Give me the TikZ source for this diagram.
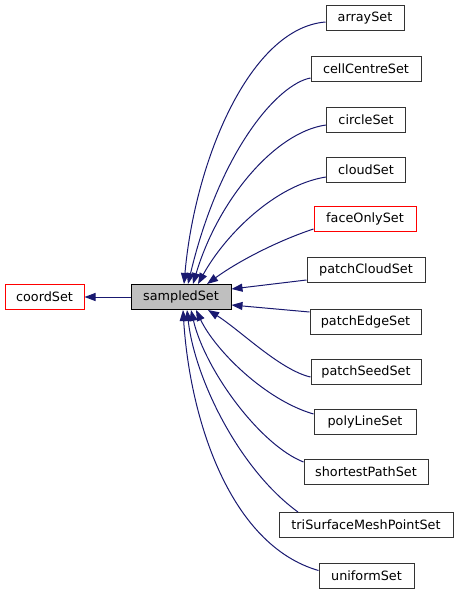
\documentclass[tikz,border=0pt]{standalone}
\usepackage{fontspec}
\setmainfont{DejaVu Sans}
\usetikzlibrary{arrows.meta}
\definecolor{edgeblue}{HTML}{191970}
\definecolor{boxgray}{HTML}{BFBFBF}
\tikzset{
  cls/.style={draw=black!80, fill=white, line width=1pt, minimum height=25pt, inner sep=0pt,
    font=\fontsize{12.8}{15}\selectfont},
  redcls/.style={cls, draw=red},
  curcls/.style={cls, fill=boxgray, draw=black},
  edge/.style={draw=edgeblue, line width=1pt, -{Triangle[length=11pt,width=8pt]}},
}
\begin{document}
\begin{tikzpicture}[x=1pt,y=-1pt]
\useasboundingbox (0,0) rectangle (459,595);
\node[redcls, minimum width=79pt] (coord) at (44.5,297) {coordSet};
\node[curcls, minimum width=100pt] (s) at (181,297) {sampledSet};
\node[cls, minimum width=78pt] (a1) at (365,18) {arraySet};
\node[cls, minimum width=110pt] (a2) at (366,69) {cellCentreSet};
\node[cls, minimum width=79pt] (a3) at (366,120) {circleSet};
\node[cls, minimum width=79pt] (a4) at (366,170) {cloudSet};
\node[redcls, minimum width=102pt] (a5) at (365,219) {faceOnlySet};
\node[cls, minimum width=118pt] (a6) at (366,270) {patchCloudSet};
\node[cls, minimum width=111pt] (a7) at (365.5,322) {patchEdgeSet};
\node[cls, minimum width=110pt] (a8) at (366,372) {patchSeedSet};
\node[cls, minimum width=102pt] (a9) at (365,422) {polyLineSet};
\node[cls, minimum width=124pt] (a10) at (366,472) {shortestPathSet};
\node[cls, minimum width=174pt] (a11) at (366,525) {triSurfaceMeshPointSet};
\node[cls, minimum width=95pt] (a12) at (366.5,575.5) {uniformSet};

\draw[edge] (s) -- (coord);
\draw[edge] ([yshift=-4pt]a1.west) .. controls (250,28) and (195,160) .. ([xshift=3pt]s.north);
\draw[edge] ([yshift=-9pt]a2.west) .. controls (278,84) and (220,150) .. ([xshift=7pt]s.north);
\draw[edge] ([yshift=-5pt]a3.west) .. controls (275,132) and (218,200) .. ([xshift=12pt]s.north);
\draw[edge] ([yshift=-7pt]a4.west) .. controls (275,185) and (225,235) .. ([xshift=17pt]s.north);
\draw[edge] ([yshift=-10pt]a5.west) .. controls (280,240) and (240,260) .. ([xshift=26pt]s.north);
\draw[edge] ([yshift=-10pt]a6.west) -- ([yshift=8pt]s.east);
\draw[edge] ([yshift=10pt]a7.west) -- ([yshift=-8pt]s.east);
\draw[edge] ([yshift=-5pt]a8.west) .. controls (280,370) and (240,330) .. ([xshift=27pt]s.south);
\draw[edge] ([yshift=8pt]a9.west) .. controls (265,400) and (215,350) .. ([xshift=15pt]s.south);
\draw[edge] ([yshift=10pt]a10.west) .. controls (260,445) and (205,370) .. ([xshift=10pt]s.south);
\draw[edge] ([xshift=-68pt]a11.north) .. controls (240,470) and (195,380) .. ([xshift=6pt]s.south);
\draw[edge] ([yshift=5pt]a12.west) .. controls (230,545) and (190,420) .. ([xshift=2pt]s.south);
\end{tikzpicture}
\end{document}
